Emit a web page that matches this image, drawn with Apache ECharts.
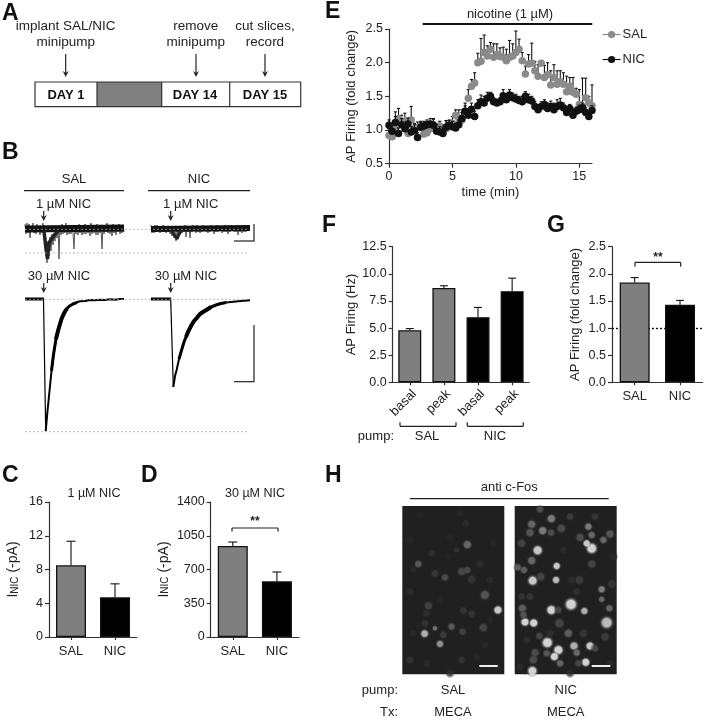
<!DOCTYPE html>
<html><head><meta charset="utf-8">
<style>html,body{margin:0;padding:0;background:#fff}#c{width:705px;height:720px}</style>
<script src="https://cdn.jsdelivr.net/npm/echarts@6/dist/echarts.min.js"></script>
</head><body><div id="c"></div>
<script>
// ---------- Panel E: time course ----------
const eTimes = [0,.25,.5,.75,1,1.25,1.5,1.75,2,2.25,2.5,2.75,3,3.25,3.5,3.75,4,4.25,4.5,4.75,5,5.25,5.5,5.75,6,6.25,6.5,6.75,7,7.25,7.5,7.75,8,8.25,8.5,8.75,9,9.25,9.5,9.75,10,10.25,10.5,10.75,11,11.25,11.5,11.75,12,12.25,12.5,12.75,13,13.25,13.5,13.75,14,14.25,14.5,14.75,15,15.25,15.5,15.75,16];
const eSal = [.92,.90,1.02,1.17,1.10,1.13,.95,1.15,1.02,1.04,1.06,.94,.96,1.02,1.08,1.0,1.06,1.0,1.02,1.05,1.1,1.22,1.18,1.15,1.28,1.47,1.65,1.70,2.0,2.02,2.15,2.10,2.2,2.08,2.12,2.09,2.08,2.03,2.08,2.10,2.15,2.2,2.03,1.83,1.98,1.99,1.88,1.80,1.99,1.78,1.82,1.67,1.78,1.68,1.72,1.68,1.57,1.65,1.56,1.53,1.38,1.35,1.48,1.40,1.36];
const eSalTop = [1.02,1.0,1.27,1.32,1.22,1.25,1.08,1.35,1.1,1.12,1.13,1.0,1.03,1.1,1.17,1.06,1.13,1.07,1.14,1.14,1.2,1.3,1.3,1.3,1.4,1.6,1.75,1.85,2.14,2.36,2.41,2.25,2.3,2.28,2.28,2.22,2.23,2.2,2.33,2.28,2.47,2.35,2.15,1.95,2.12,2.29,2.02,1.97,2.0,1.96,2.0,1.88,1.97,1.88,1.88,1.85,1.8,1.78,1.78,1.62,1.6,1.77,1.77,1.5,1.67];
const eNic = [1.07,.98,1.11,.95,1.08,1.02,1.09,.97,.99,.89,1.04,1.06,1.08,1.09,1.07,.98,.97,.95,1.04,1.07,1.05,1.03,1.08,1.17,1.28,1.22,1.31,1.2,1.36,1.42,1.40,1.47,1.50,1.42,1.40,1.42,1.51,1.45,1.52,1.48,1.46,1.44,1.42,1.50,1.45,1.43,1.35,1.30,1.35,1.38,1.32,1.35,1.30,1.35,1.37,1.33,1.26,1.32,1.22,1.28,1.30,1.33,1.26,1.20,1.29];
const eNicTop = [1.15,1.07,1.2,1.03,1.17,1.1,1.18,1.05,1.08,.96,1.11,1.13,1.15,1.17,1.16,1.08,1.05,1.03,1.14,1.15,1.13,1.1,1.15,1.26,1.36,1.3,1.4,1.28,1.45,1.52,1.5,1.56,1.56,1.48,1.46,1.48,1.6,1.53,1.6,1.55,1.53,1.5,1.5,1.57,1.53,1.5,1.42,1.37,1.42,1.45,1.4,1.43,1.4,1.45,1.47,1.4,1.33,1.38,1.28,1.34,1.37,1.4,1.33,1.26,1.36];
const eTicksX = [0,5,10,15];

// ---------- Bar panels ----------
const fCats = ['basal','peak','basal ','peak '];
const fVals = [4.8,8.7,6.0,8.4];
const fTops = [4.95,8.9,6.9,9.6];
const pairCats = ['SAL','NIC'];
const gVals = [1.84,1.43];
const gTops = [1.93,1.51];
const cVals = [8.5,4.7];
const cTops = [11.35,6.3];
const dVals = [943,577];
const dTops = [985,674];
const salGrey = '#7f7f7f', nicBlack = '#000000', ink = '#222222';

// ---------- Panel B: traces (t, current) ----------
const sal1uM = [5,-5,6,-4,5,-9,2,-3,6,-4,3,-5,5,-3,2,-6,3,-4,6,-3,-8,-20,-34,-12,-27,-8,-22,-5,-16,-4,-12,2,-9,3,-30,3,-6,5,-5,3,-4,6,-6,3,-5,4,-5,3,-4,-20,4,-5,2,-6,5,-4,3,-6,4,-5,5,-5,3,-4,2,-7,6,-5,3,-4,4,-6,5,-6,3,-4,2,-20,4,-5,3,-3,6,-4,3,-5,4,-7,5,-4,3,-6,4,-3,5,-5,3,-4,4,-3];
const nic1uM = [4,-4,3,-4,4,-3,4,-2,3,-4,3,-3,4,-3,2,-4,3,-3,2,-5,-2,-7,-1,-9,-3,-12,-2,-8,-1,-6,2,-4,3,-3,4,-8,3,-3,2,-9,3,-3,4,-2,3,-4,4,-3,2,-4,3,-3,4,-2,3,-3,2,-4,3,-3,4,-2,3,-5,2,-3,4,-3,3,-2,2,-4,3,-3,4,-3,2,-5,3,-3,4,-2,3,-3,2,-3,4,-6,3,-3,2,-4,3,-3,4,-3,3,-2];
const salBand = [[0,0],[99,1]];
const nicBand = [[0,0],[99,1]];
const salFunnel = [[19,-2],[21,-20],[22.5,-30],[24,-14],[27,-9],[33,-2]];
const nicFunnel = [[20,-1],[24,-7],[26,-10],[28,-5],[31,-1]];
const sal30Flat = [[0,0],[19,0]];
const sal30Drop = [[18.5,0],[20.7,-132]];
const sal30Rec = [[20.7,-132],[22.5,-112],[25,-87],[26.5,-72],[28.3,-57],[30,-46],[31,-40],[33.3,-30.7],[35,-25],[36.5,-20],[38.3,-15.7],[40,-12.5],[42,-9.5],[45,-6.7],[48,-5],[52,-3.3],[55,-2.3],[60,-2],[65,-1],[70,-1.2],[75,-.7],[80,-.9],[85,-.3],[90,-.8],[95,-.1],[99,0]];
const sal30Mid = [[26.5,-72],[28.3,-57],[30,-46],[31,-40],[33.3,-30.7],[35,-25],[36.5,-20],[38.3,-15.7],[40,-12.5],[42,-9.5],[45,-6.7],[48,-5],[52,-3.3]];
const sal30Thick = [[31,-40],[33.3,-30.7],[35,-25],[36.5,-20],[38.3,-15.7],[40,-12.5],[42,-9.5]];
const nic30Flat = [[0,0],[20,0]];
const nic30Drop = [[19.7,0],[22.3,-88]];
const nic30Rec = [[22.3,-88],[24,-77],[25.7,-70.7],[28,-60],[30.7,-50.7],[33,-43],[35,-38],[37.3,-32.3],[40,-27],[43,-22],[45.7,-19],[49,-15],[52,-13],[55.7,-10.7],[60,-8],[65,-6],[69,-4.7],[75,-3.5],[82.3,-2.7],[90,-2],[99,-1.3]];
const nic30Mid = [[28,-60],[30.7,-50.7],[33,-43],[35,-38],[37.3,-32.3],[40,-27],[43,-22],[45.7,-19],[49,-15],[52,-13],[55.7,-10.7],[60,-8],[65,-6],[69,-4.7],[75,-3.5]];
const nic30Thick = [[35,-38],[37.3,-32.3],[40,-27],[43,-22],[45.7,-19],[49,-15],[52,-13],[55.7,-10.7],[60,-8]];

// ---------- Panel H: spots [x, y, diameter, brightness] ----------
const fosSal = [[444,450,7,.95],[224,521,6.5,.85],[352,254,7,.5],[205,312,6,.42],[270,552,6,.7],[255,505,4,.55],[305,500,6,.42],[405,405,8,.4],[335,335,7,.32],[352,330,6,.32],[365,358,7,.2],[285,352,6,.35],[255,340,6,.22],[235,437,7,.28],[400,503,7,.3],[338,515,6,.28],[340,452,6,.2],[365,462,6,.2],[180,395,6,.13],[245,280,6,.14],[390,312,6,.14],[348,190,6,.12],[180,240,6,.09],[335,600,6,.18],[180,600,6,.18],[225,490,6,.18],[280,525,6,.25],[420,360,6,.12],[300,640,6,.14],[405,555,6,.1],[230,460,6,.14],[210,165,6,.07],[300,230,6,.08],[430,250,6,.08],[270,420,6,.08],[330,160,6,.08],[190,520,6,.09],[440,620,6,.07],[380,590,6,.08],[230,610,6,.1],[295,290,5,.08],[190,330,5,.1],[320,270,4,.2],[420,480,5,.09]];
const fosNic = [[663,433,10,1],[604,450,8,1],[525,486,7,1],[551,489,7,1],[592,548,9,1],[625,570,8,1],[613,590,7,1],[707,607,7,1],[547,633,8,1],[725,265,9,1],[710,250,6,.95],[563,271,8,.95],[548,362,8,.95],[618,360,6,.9],[620,318,6,.95],[720,558,7,.95],[672,558,7,.85],[703,453,6,.85],[770,488,10,.9],[778,445,6,.5],[755,388,6,.6],[755,418,5,.5],[604,176,7,.6],[578,212,7,.6],[545,193,7,.5],[540,218,7,.4],[603,218,6,.35],[634,205,7,.35],[715,200,6,.6],[725,225,6,.5],[760,240,6,.5],[690,232,7,.35],[780,222,7,.4],[515,250,7,.3],[545,302,7,.5],[503,322,6,.45],[522,330,6,.45],[572,350,7,.3],[725,312,7,.3],[688,360,7,.25],[785,372,7,.2],[517,445,7,.45],[520,465,6,.4],[570,148,6,.35],[655,520,7,.45],[628,490,8,.3],[625,450,6,.3],[568,528,6,.3],[590,580,6,.4],[555,578,7,.35],[630,610,6,.5],[680,578,6,.5],[685,610,6,.3],[735,565,6,.3],[550,600,7,.35],[660,170,6,.25],[735,170,6,.2],[515,410,6,.2],[540,410,6,.2],[680,395,6,.15],[700,520,7,.2],[600,520,6,.15],[765,530,7,.25],[665,360,6,.15],[530,540,6,.15],[640,270,6,.12],[780,610,6,.12],[510,620,6,.12],[790,290,6,.1],[660,640,6,.12]];

// ---------- Layout ----------
const F = '"Liberation Sans", Arial, sans-serif';
const grids = {
  E:{left:389,top:29,width:203,height:134.7},
  F:{left:392.7,top:246.7,width:136.5,height:135.6},
  G:{left:612,top:246.7,width:90.7,height:135.6},
  C:{left:49,top:502,width:88,height:135},
  D:{left:210.7,top:502,width:88.3,height:135},
  t1:{left:25,top:221,width:99,height:44},
  t2:{left:151,top:221,width:99,height:44},
  t3:{left:25,top:295,width:99,height:140},
  t4:{left:151,top:295,width:99,height:140},
  h1:{left:402.3,top:506,width:102,height:168.3},
  h2:{left:514.7,top:506,width:102,height:168.3}
};
const gridKeys = Object.keys(grids);
const gi = k => gridKeys.indexOf(k);
const gridOpt = gridKeys.map(k => Object.assign({containLabel:false},grids[k],
  k[0]==='h'?{show:true,backgroundColor:'#202020',borderWidth:0}:{}));

const axLine = {show:true,onZero:false,lineStyle:{color:'#333',width:1.2}};
const axTick = {show:true,length:4,lineStyle:{color:'#333',width:1.2}};
function valAxis(k,min,max,interval,name,gap,dec){
  return {type:'value',gridIndex:gi(k),min,max,interval,splitLine:{show:false},axisLine:axLine,axisTick:axTick,
    axisLabel:{fontFamily:F,fontSize:12.5,color:ink,margin:6,formatter:v=>dec?v.toFixed(dec):String(v)},
    name,nameLocation:'middle',nameGap:gap,nameRotate:90,
    nameTextStyle:{fontFamily:F,fontSize:13,color:ink,rich:{
      a:{fontFamily:F,fontSize:14,color:ink},
      s:{fontFamily:F,fontSize:10,color:ink,verticalAlign:'bottom',lineHeight:12}}}};
}
function catAxis(k,cats,rot){
  return {type:'category',gridIndex:gi(k),data:cats,axisLine:axLine,
    axisTick:{show:true,alignWithLabel:true,length:3,lineStyle:{color:'#333',width:1.2}},
    axisLabel:Object.assign({fontFamily:F,fontSize:13,color:ink,margin:rot?5:8,rotate:rot||0,interval:0,
      formatter:v=>v.trim()},rot?{align:'right',verticalAlign:'top'}:{})};
}
function hidden(k,min,max,inverse){
  return {type:'value',gridIndex:gi(k),min,max,inverse:!!inverse,show:false,splitLine:{show:false}};
}
const xAxes=[], yAxes=[];
xAxes.push({type:'value',gridIndex:gi('E'),min:0,max:16,interval:5,splitLine:{show:false},axisLine:axLine,
  axisTick:Object.assign({customValues:eTicksX},axTick),
  axisLabel:{fontFamily:F,fontSize:12.5,color:ink,margin:6,customValues:eTicksX},
  name:'time (min)',nameLocation:'middle',nameGap:22,nameTextStyle:{fontFamily:F,fontSize:13,color:ink}});
yAxes.push(valAxis('E',.5,2.5,.5,'AP Firing (fold change)',31,1));
xAxes.push(catAxis('F',fCats,45)); yAxes.push(valAxis('F',0,12.5,2.5,'AP Firing (Hz)',35,1));
xAxes.push(catAxis('G',pairCats)); yAxes.push(valAxis('G',0,2.5,.5,'AP Firing (fold change)',30,1));
const iName='{a|I}{s|NIC}{a| (-pA)}';
xAxes.push(catAxis('C',pairCats)); yAxes.push(valAxis('C',0,16,4,iName,29));
xAxes.push(catAxis('D',pairCats)); yAxes.push(valAxis('D',0,1400,350,iName,40));
['t1','t2'].forEach(k=>{xAxes.push(hidden(k,0,99));yAxes.push(hidden(k,-36,8));});
['t3','t4'].forEach(k=>{xAxes.push(hidden(k,0,99));yAxes.push(hidden(k,-136,4));});
xAxes.push(hidden('h1',157,463)); yAxes.push(hidden('h1',138,643,true));
xAxes.push(hidden('h2',494,800)); yAxes.push(hidden('h2',138,643,true));

// ---------- Series helpers ----------
function errSeries(k,rows,cap,z,col){
  return {type:'custom',xAxisIndex:gi(k),yAxisIndex:gi(k),z,silent:true,clip:false,data:rows,
    encode:{x:0,y:1},
    renderItem(p,api){
      const a=api.coord([api.value(0),api.value(1)]), b=api.coord([api.value(0),api.value(2)]);
      const st={stroke:col||'#111',lineWidth:1.1,fill:null};
      return {type:'group',children:[
        {type:'line',shape:{x1:a[0],y1:a[1],x2:b[0],y2:b[1]},style:st},
        {type:'line',shape:{x1:b[0]-cap,y1:b[1],x2:b[0]+cap,y2:b[1]},style:st}]};
    }};
}
function barSeries(k,vals,cols,w){
  return {type:'bar',xAxisIndex:gi(k),yAxisIndex:gi(k),barWidth:w,z:3,silent:true,
    data:vals.map((v,i)=>({value:v,itemStyle:{color:cols[i],borderColor:'#111',borderWidth:1.3}}))};
}
function traceSeries(k,data,width,col){
  return {type:'line',xAxisIndex:gi(k),yAxisIndex:gi(k),data,symbol:'none',silent:true,clip:false,
    lineStyle:{color:col||'#000',width,cap:'butt'},z:3};
}
function spotSeries(k,data){
  return {type:'scatter',xAxisIndex:gi(k),yAxisIndex:gi(k),data,silent:true,z:3,
    symbolSize:d=>d[2]*1.5+1,
    itemStyle:{color:p=>{const b=p.data[3];const v=Math.round(32+Math.pow(b,1.35)*223);const c=`rgb(${v},${v},${v})`;
      return {type:'radial',x:.5,y:.5,r:.5,colorStops:[{offset:0,color:c},{offset:.5,color:c},{offset:1,color:'rgba(32,32,32,0)'}]};}}};
}
const series=[];
series.push(errSeries('E',eTimes.map((t,i)=>[t,eSal[i],eSalTop[i]]),1.6,2));
series.push({name:'SAL',type:'line',xAxisIndex:gi('E'),yAxisIndex:gi('E'),z:3,silent:true,clip:false,
  data:eTimes.map((t,i)=>[t,eSal[i]]),symbol:'circle',symbolSize:7.5,showSymbol:true,
  lineStyle:{width:0},itemStyle:{color:'#8a8a8a'}});
series.push(errSeries('E',eTimes.map((t,i)=>[t,eNic[i],eNicTop[i]]),1.6,4));
series.push({name:'NIC',type:'line',xAxisIndex:gi('E'),yAxisIndex:gi('E'),z:5,silent:true,clip:false,
  data:eTimes.map((t,i)=>[t,eNic[i]]),symbol:'circle',symbolSize:7.5,showSymbol:true,
  lineStyle:{width:0},itemStyle:{color:'#111'}});

const fPos=[0,1,2,3];
series.push(errSeries('F',fPos.map(i=>[i,fVals[i],fTops[i]]),4,2));
series.push(barSeries('F',fVals,[salGrey,salGrey,nicBlack,nicBlack],23));
series.push(errSeries('G',[0,1].map(i=>[i,gVals[i],gTops[i]]),4,2));
series.push(Object.assign(barSeries('G',gVals,[salGrey,nicBlack],30),{
  markLine:{silent:true,symbol:'none',label:{show:false},z:1,data:[{yAxis:1}],
    lineStyle:{type:[2,2],color:'#111',width:1.4}}}));
series.push(errSeries('C',[0,1].map(i=>[i,cVals[i],cTops[i]]),4.5,2));
series.push(barSeries('C',cVals,[salGrey,nicBlack],30));
series.push(errSeries('D',[0,1].map(i=>[i,dVals[i],dTops[i]]),4.5,2));
series.push(barSeries('D',dVals,[salGrey,nicBlack],30));

series.push(traceSeries('t1',sal1uM.map((v,i)=>[i,v]),1,'#555'),traceSeries('t1',salBand,7,'#111'),traceSeries('t1',salFunnel,3.5,'#222'));
series.push(traceSeries('t2',nic1uM.map((v,i)=>[i,v]),1,'#555'),traceSeries('t2',nicBand,6,'#111'),traceSeries('t2',nicFunnel,3,'#222'));
series.push(traceSeries('t3',sal30Flat,3),traceSeries('t3',sal30Drop,1.2),traceSeries('t3',sal30Rec,2),traceSeries('t3',sal30Mid,3),traceSeries('t3',sal30Thick,4));
series.push(traceSeries('t4',nic30Flat,3),traceSeries('t4',nic30Drop,1.2),traceSeries('t4',nic30Rec,2),traceSeries('t4',nic30Mid,3),traceSeries('t4',nic30Thick,4));
series.push(spotSeries('h1',fosSal),spotSeries('h2',fosNic));

// ---------- Annotations ----------
const g=[];
const txt=(s,x,y,o={})=>g.push({type:'text',silent:true,x,y,z:20,style:Object.assign({text:s,fill:ink,fontFamily:F,fontSize:13,
  align:'center',verticalAlign:'middle'},o)});
const ln=(x1,y1,x2,y2,c='#222',w=1.2,dash)=>g.push({type:'line',silent:true,z:19,shape:{x1,y1,x2,y2},style:{stroke:c,lineWidth:w,lineDash:dash||null}});
const arrow=(x,y1,y2,h=6)=>{ln(x,y1,x,y2-3,'#222',1.2);g.push({type:'polygon',silent:true,z:19,shape:{points:[[x-3,y2-h],[x,y2-h+2],[x+3,y2-h],[x,y2]]},style:{fill:'#222'}});};
const bracket=(x1,x2,yTop,yBot)=>{ln(x1,yBot,x1,yTop);ln(x1,yTop,x2,yTop);ln(x2,yTop,x2,yBot);};
const bracketUp=(x1,x2,yTop,yBot)=>{ln(x1,yTop,x1,yBot);ln(x1,yBot,x2,yBot);ln(x2,yBot,x2,yTop);};
const panel=(s,x,y)=>txt(s,x,y,{fontSize:23,fontWeight:'bold',fill:'#111',align:'left'});
panel('A',2,14);panel('B',2,153);panel('C',2,476);panel('D',141,476);panel('E',325,12);panel('F',322,226);panel('G',547,226);panel('H',325,476);

// A
g.push({type:'rect',silent:true,z:18,shape:{x:97,y:82,width:64.7,height:24.7},style:{fill:'#808080'}});
g.push({type:'rect',silent:true,z:19,shape:{x:35,y:82,width:265.7,height:24.7},style:{fill:'none',stroke:'#333',lineWidth:1.2}});
ln(97,82,97,106.7,'#333');ln(161.7,82,161.7,106.7,'#333');ln(229.7,82,229.7,106.7,'#333');
[['DAY 1',66],['DAY 14',195],['DAY 15',265]].forEach(d=>txt(d[0],d[1],95,{fontWeight:'bold',fontSize:13,fill:'#111'}));
txt('implant SAL/NIC',65.7,26,{fontSize:13.5});txt('minipump',65.7,42.3,{fontSize:13.5});
txt('remove',195.7,26,{fontSize:13.5});txt('minipump',195.7,42.3,{fontSize:13.5});
txt('cut slices,',265,26,{fontSize:13.5});txt('record',265,42.3,{fontSize:13.5});
arrow(65.7,54,77);arrow(196,54,77);arrow(265,54,77);

// B
txt('SAL',74,179);ln(24,190.7,124,190.7);txt('NIC',199,179);ln(148,190.7,250,190.7);
txt('1 µM NIC',63.5,204);txt('1 µM NIC',190.7,204);arrow(43.7,211,221);arrow(170.7,211,221);
txt('30 µM NIC',59,276);txt('30 µM NIC',186,276);arrow(43.7,283,293);arrow(170.7,283,293);
const dot='#aaa';
ln(25,229.3,248,229.3,dot,.8,[2,2]);ln(25,253,248,253,dot,.8,[2,2]);ln(25,299.3,248,299.3,dot,.8,[2,2]);ln(25,431.7,248,431.7,dot,.8,[2,2]);
ln(254,224,254,241.5);ln(234,241,254,241);ln(254,325,254,382);ln(234,381.7,254,381.7);

// E
ln(422.7,24,592.3,24,'#111',2);txt('nicotine (1 µM)',510,14);
// F brackets
bracketUp(400,456,422.3,426.3);bracketUp(467.3,523.3,422.3,426.3);
txt('pump:',394,436.7,{align:'right'});txt('SAL',427,436.7);txt('NIC',495,436.7);
// G / D significance
bracket(635,680.7,262.3,266.7);txt('**',658,258,{fontWeight:'bold',fontSize:12});
bracket(232,278,528,531.5);txt('**',255,522,{fontWeight:'bold',fontSize:12});
// C, D titles
txt('1 µM NIC',94,494,{fontSize:12.5});txt('30 µM NIC',255,494,{fontSize:12.5});
// H
txt('anti c-Fos',509.3,487.3);ln(410,498.7,608.7,498.7);
ln(479.3,666,497.7,666,'#eee',2);ln(591.7,666,610.3,666,'#eee',2);
txt('pump:',398,690,{align:'right'});txt('SAL',453,690);txt('NIC',565.7,690);
txt('Tx:',398,712,{align:'right'});txt('MECA',453,712);txt('MECA',565.7,712);

const chart=echarts.init(document.getElementById('c'),null,{renderer:'canvas'});
chart.setOption({animation:false,backgroundColor:'#fff',
  grid:gridOpt,xAxis:xAxes,yAxis:yAxes,series,graphic:{elements:g},
  legend:{data:['SAL','NIC'],left:597,top:23,orient:'vertical',itemWidth:18,itemHeight:9,itemGap:12,selectedMode:false,
    textStyle:{fontFamily:F,fontSize:13,color:ink,padding:[0,0,0,-3]},
    lineStyle:{width:1.2,color:'inherit',opacity:1}}
});
</script></body></html>
